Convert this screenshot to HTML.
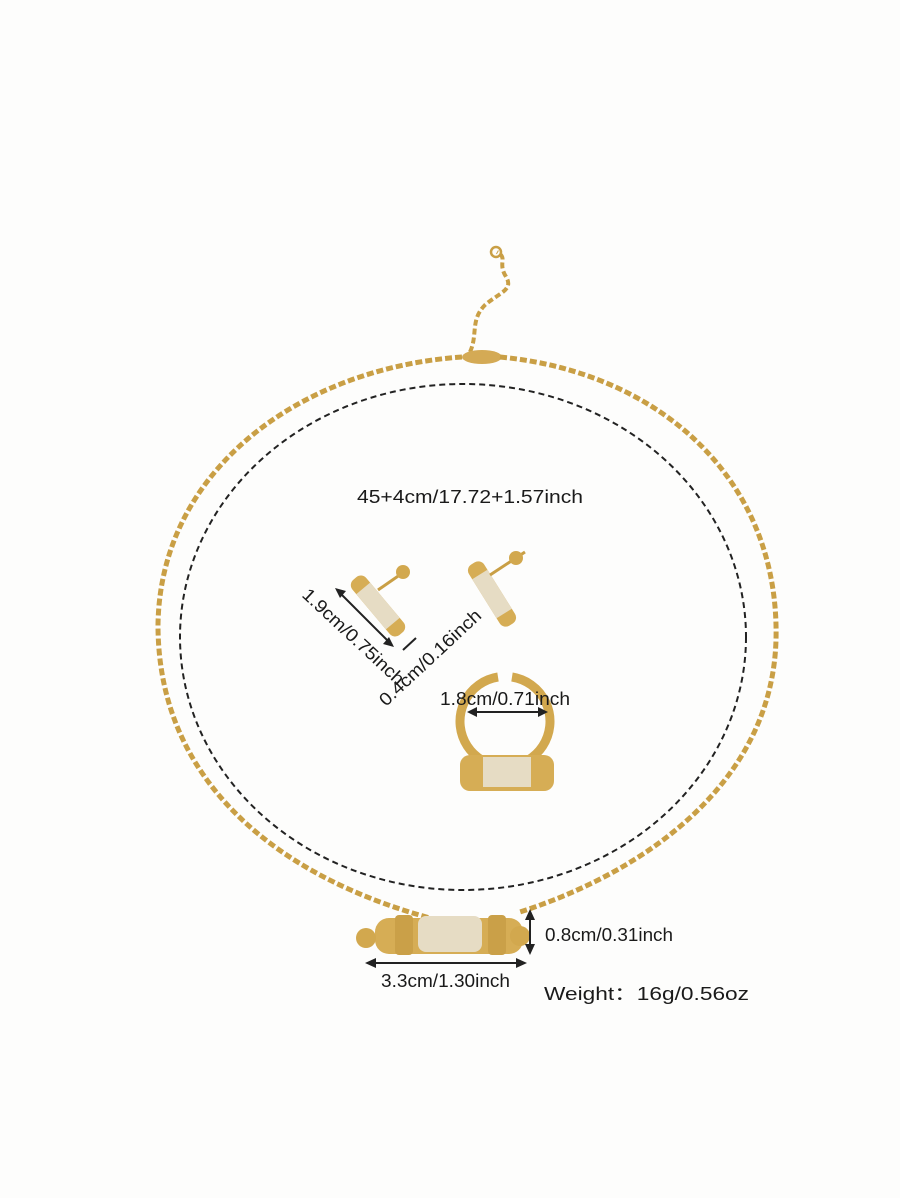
<!DOCTYPE html>
<html><head><meta charset="utf-8"><style>
html,body{margin:0;padding:0;background:#fdfdfc;}
svg{display:block}
text{font-family:"Liberation Sans","Noto Sans CJK SC",sans-serif;fill:#1a1a1a;font-size:18px}
</style></head><body>
<svg width="900" height="1198" viewBox="0 0 900 1198" xmlns="http://www.w3.org/2000/svg">
<rect width="900" height="1198" fill="#fdfdfc"/>
<!-- extender chain -->
<path d="M470 352 C478 335 470 320 485 305 C500 292 515 290 505 275 C498 262 508 258 497 252" fill="none" stroke="#c99f45" stroke-width="4" stroke-dasharray="6 3"/>
<circle cx="496" cy="252" r="5" fill="none" stroke="#c99f45" stroke-width="2.5"/>
<ellipse cx="482" cy="357" rx="20" ry="7" fill="#d4aa55"/>
<!-- chain strands -->
<path d="M462 357 C300 368 160 470 158 625 C158 790 290 880 430 918" fill="none" stroke="#c99f45" stroke-width="5" stroke-dasharray="7 3"/>
<path d="M500 357 C660 372 780 480 776 640 C772 780 650 870 520 912" fill="none" stroke="#c99f45" stroke-width="5" stroke-dasharray="7 3"/>
<!-- dashed circle -->
<ellipse cx="463" cy="637" rx="283" ry="253" fill="none" stroke="#222" stroke-width="2" stroke-dasharray="6 4"/>
<!-- pendant -->
<rect x="375" y="918" width="148" height="36" rx="14" fill="#d6ad55"/>
<rect x="418" y="916" width="64" height="36" rx="8" fill="#e6dcc4"/>
<rect x="395" y="915" width="18" height="40" rx="4" fill="#caa048"/>
<rect x="488" y="915" width="18" height="40" rx="4" fill="#caa048"/>
<circle cx="366" cy="938" r="10" fill="#d2a84e"/><circle cx="520" cy="936" r="10" fill="#d2a84e"/>
<!-- earrings -->
<g transform="rotate(50 378 606)"><rect x="342" y="597" width="72" height="18" rx="7" fill="#d6ad55"/><rect x="355" y="597" width="46" height="18" fill="#e6dcc4"/></g>
<line x1="378" y1="590" x2="404" y2="572" stroke="#c99f45" stroke-width="3"/>
<circle cx="403" cy="572" r="7" fill="#d2a84e"/>
<g transform="rotate(58 492 594)"><rect x="456" y="585" width="72" height="18" rx="7" fill="#d6ad55"/><rect x="469" y="585" width="46" height="18" fill="#e6dcc4"/></g>
<line x1="490" y1="575" x2="525" y2="552" stroke="#c99f45" stroke-width="3"/>
<circle cx="516" cy="558" r="7" fill="#d2a84e"/>
<!-- ring -->
<path d="M498 677 A45 45 0 1 0 512 677" fill="none" stroke="#d2a84e" stroke-width="9"/>
<rect x="460" y="755" width="94" height="36" rx="10" fill="#d6ad55"/>
<rect x="483" y="757" width="48" height="30" fill="#e6dcc4"/>
<!-- dimension arrows -->
<g stroke="#222" stroke-width="2" fill="none">
<line x1="337" y1="590" x2="392" y2="645"/>
<line x1="403" y1="650" x2="416" y2="638"/>
<line x1="469" y1="712" x2="546" y2="712"/>
<line x1="530" y1="911" x2="530" y2="953"/>
<line x1="368" y1="963" x2="524" y2="963"/>
</g>
<g fill="#222">
<polygon points="335,588 346,591 340,598"/><polygon points="394,647 383,644 389,637"/>
<polygon points="467,712 477,707 477,717"/><polygon points="548,712 538,707 538,717"/>
<polygon points="530,909 525,920 535,920"/><polygon points="530,955 525,944 535,944"/>
<polygon points="365,963 376,958 376,968"/><polygon points="527,963 516,958 516,968"/>
</g>
<text x="357" y="503" textLength="226" lengthAdjust="spacingAndGlyphs">45+4cm/17.72+1.57inch</text>
<text transform="translate(301 596) rotate(43)" textLength="132" lengthAdjust="spacingAndGlyphs">1.9cm/0.75inch</text>
<text transform="translate(386 707) rotate(-43)" textLength="132" lengthAdjust="spacingAndGlyphs">0.4cm/0.16inch</text>
<text x="440" y="705" textLength="130" lengthAdjust="spacingAndGlyphs">1.8cm/0.71inch</text>
<text x="545" y="941" textLength="128" lengthAdjust="spacingAndGlyphs">0.8cm/0.31inch</text>
<text x="381" y="987" textLength="129" lengthAdjust="spacingAndGlyphs">3.3cm/1.30inch</text>
<text x="544" y="1000" textLength="205" lengthAdjust="spacingAndGlyphs">Weight：16g/0.56oz</text>
</svg>
</body></html>
